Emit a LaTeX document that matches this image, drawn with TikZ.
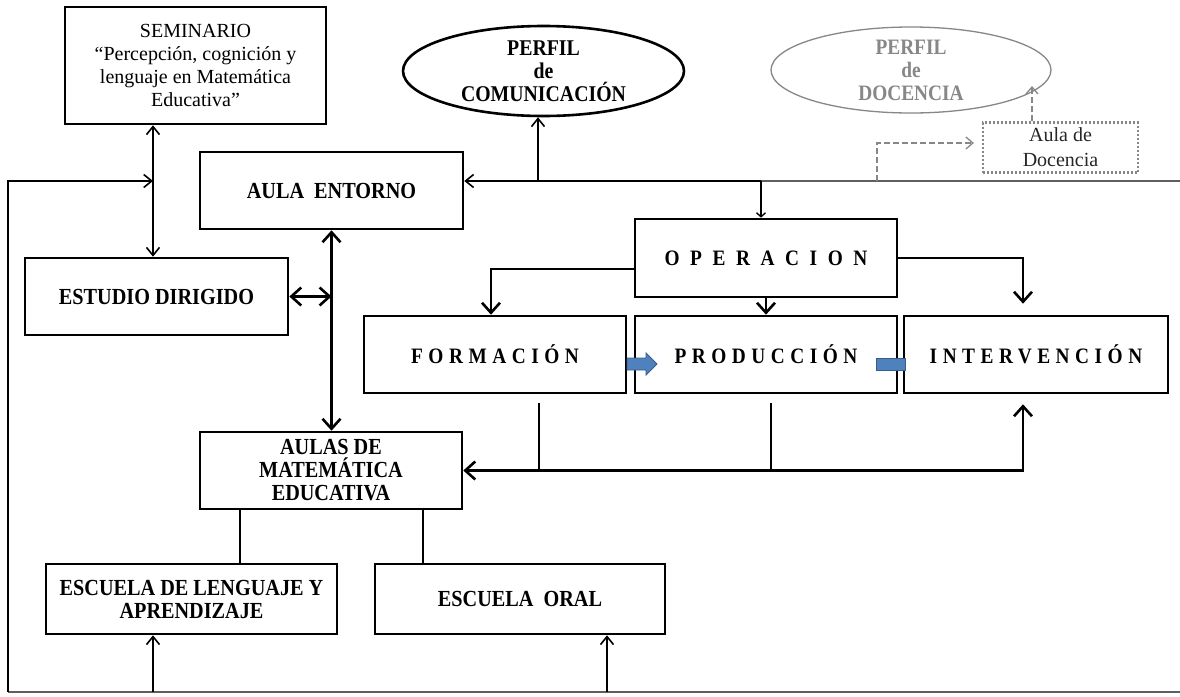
\documentclass[tikz,border=0pt]{standalone}
\usepackage{fontspec}
\setmainfont{Liberation Serif}[BoldFeatures={FakeStretch=0.88}]
\usetikzlibrary{arrows.meta,shapes.geometric}
\definecolor{gry}{RGB}{135,135,135}
\definecolor{gryline}{RGB}{95,95,95}
\definecolor{blueF}{RGB}{79,129,189}
\definecolor{blueD}{RGB}{56,93,138}

\begin{document}
\begin{tikzpicture}[x=1pt,y=-1pt,
  box/.style={draw, line width=2.6pt, inner sep=0pt, align=center,
    font=\bfseries\fontsize{23}{23}\selectfont},
  plainbox/.style={box, font=\fontsize{20}{23}\selectfont},
  spaced/.style={box, font=\bfseries\fontsize{22}{22}\selectfont\addfontfeatures{LetterSpace=#1}},
  thinln/.style={line width=1.6pt},
  midln/.style={line width=2pt},
  heavy/.style={line width=2.6pt},
  barbS/.tip={Straight Barb[length=8pt,width=13pt,line width=1.6pt]},
  barbL/.tip={Straight Barb[length=10pt,width=18pt,line width=2.6pt]},
  barbT/.tip={Straight Barb[length=4pt,width=9pt,line width=1.4pt]},
  barbG/.tip={Straight Barb[length=7pt,width=12pt,line width=1.3pt]},
  gdash/.style={gry, line width=1.4pt, dash pattern=on 6pt off 3pt},
]
\fill[white] (0,0) rectangle (1180,696);
\path[use as bounding box] (0,0) rectangle (1180,696);

% ---- boxes ----
\node[plainbox, minimum width=261, minimum height=117] (sem) at (195.5,65.5)
  {SEMINARIO\\“Percepción, cognición y\\lenguaje en Matemática\\Educativa”};
\node[box, minimum width=263, minimum height=77] (entorno) at (331.5,190.5) {AULA\ \ ENTORNO};
\node[box, minimum width=263, minimum height=77] (estudio) at (156.5,296.5) {ESTUDIO DIRIGIDO};
\node[spaced=48, minimum width=262, minimum height=78] (oper) at (766,258) {OPERACION};
\node[spaced=25, minimum width=262, minimum height=77] (form) at (495,354.5) {FORMACIÓN};
\node[spaced=25, minimum width=262, minimum height=77] (prod) at (766,354.5) {PRODUCCIÓN};
\node[spaced=25, minimum width=264, minimum height=77] (interv) at (1036,354.5) {INTERVENCIÓN};
\node[box, minimum width=262, minimum height=77] (aulas) at (331,470.5) {AULAS DE\\MATEMÁTICA\\EDUCATIVA};
\node[box, minimum width=291, minimum height=70] (esc1) at (191.5,599) {ESCUELA DE LENGUAJE Y\\APRENDIZAJE};
\node[box, minimum width=290, minimum height=70] (esc2) at (520,599) {ESCUELA\ \ ORAL};

% ---- profiles ----
\node[draw, ellipse, line width=2.6pt, minimum width=281, minimum height=90, inner sep=0pt,
  label={[font=\bfseries\fontsize{22.5}{23}\selectfont, align=center]center:PERFIL\\de\\COMUNICACIÓN}]
  (com) at (543.5,71) {};
\node[draw=gry, ellipse, line width=1.3pt, minimum width=280, minimum height=86, inner sep=0pt,
  label={[font=\bfseries\fontsize{22}{23}\selectfont, align=center, text=gry]center:PERFIL\\de\\DOCENCIA}]
  (doc) at (911,70) {};
\node[draw=gry, line width=2.2pt, dash pattern=on 2pt off 2pt, minimum width=155, minimum height=50,
  inner sep=0pt, align=center, text=black!85, font=\fontsize{20}{25}\selectfont]
  (aula) at (1060.5,147.5) {Aula de\\Docencia};

% ---- helper points ----
\coordinate (lt) at (8,181);
\coordinate (lb) at (8,692);
\coordinate (rb) at (1180,692);
\coordinate (re) at (1180,181);
\coordinate (j1) at (153,181);
\coordinate (j3) at (761,181);
\coordinate (j4) at (538,181);
\coordinate (cA) at (153,0);
\coordinate (cB) at (607,0);
\coordinate (c240) at (240,0);
\coordinate (c423) at (423,0);
\coordinate (v1) at (539,403);
\coordinate (v2) at (771,403);
\coordinate (d1) at (877,181);
\coordinate (d3) at (1032,86);

% ---- outer frame lines ----
\draw[gryline, line width=1.3pt] (lb) -- (rb);
\draw[gryline, line width=1.3pt] (re) -- (j3);
\draw[midln, -barbS] (lb) -- (lt) -- (j1);

% ---- connectors ----
\draw[thinln, barbS-barbS] (sem.south -| cA) -- (estudio.north -| cA);
\draw[midln, -barbS] (j3) -- (j3 -| entorno.east);
\draw[midln, -barbT] (j3) -- (j3 |- oper.north);
\draw[thinln, -barbS] (j4) -- (j4 |- com.south);
\draw[heavy, barbL-barbL] (entorno.south) -- (entorno.south |- aulas.north);
\draw[heavy, barbL-barbL] (estudio.east) -- (entorno.south |- estudio.east);
\draw[heavy, -barbL] ([yshift=-11pt]oper.west) -| ([xshift=-4pt]form.north);
\draw[heavy, -barbL] (oper.south) -- (prod.north);
\draw[heavy, -barbL] (oper.east) -| ([xshift=-13pt,yshift=11pt]interv.north);
\draw[heavy, barbL-barbL] ([xshift=-13pt,yshift=-10pt]interv.south) |- (aulas.east);
\draw[thinln] (v1) -- (v1 |- aulas.east);
\draw[thinln] (v2) -- (v2 |- aulas.east);
\draw[thinln] (aulas.south -| c240) -- (esc1.north -| c240);
\draw[thinln] (aulas.south -| c423) -- (esc2.north -| c423);
\draw[thinln, -barbS] (lb -| cA) -- (esc1.south -| cA);
\draw[thinln, -barbS] (lb -| cB) -- (esc2.south -| cB);

% ---- dashed links to the teaching profile ----
\draw[gdash, -barbG, shorten >=8pt] (d1) |- ([yshift=4.5pt]aula.west);
\draw[gdash, -barbG] (aula.north -| d3) -- (d3);

% ---- blue block arrows ----
\draw[blueD, fill=blueF, line width=0.8pt]
  (627,358) -- (646,358) -- (646,353) -- (657,364) -- (646,375) -- (646,370) -- (627,370) -- cycle;
\draw[blueD, fill=blueF, line width=0.8pt] (876,358) rectangle (905,370);
\end{tikzpicture}
\end{document}
